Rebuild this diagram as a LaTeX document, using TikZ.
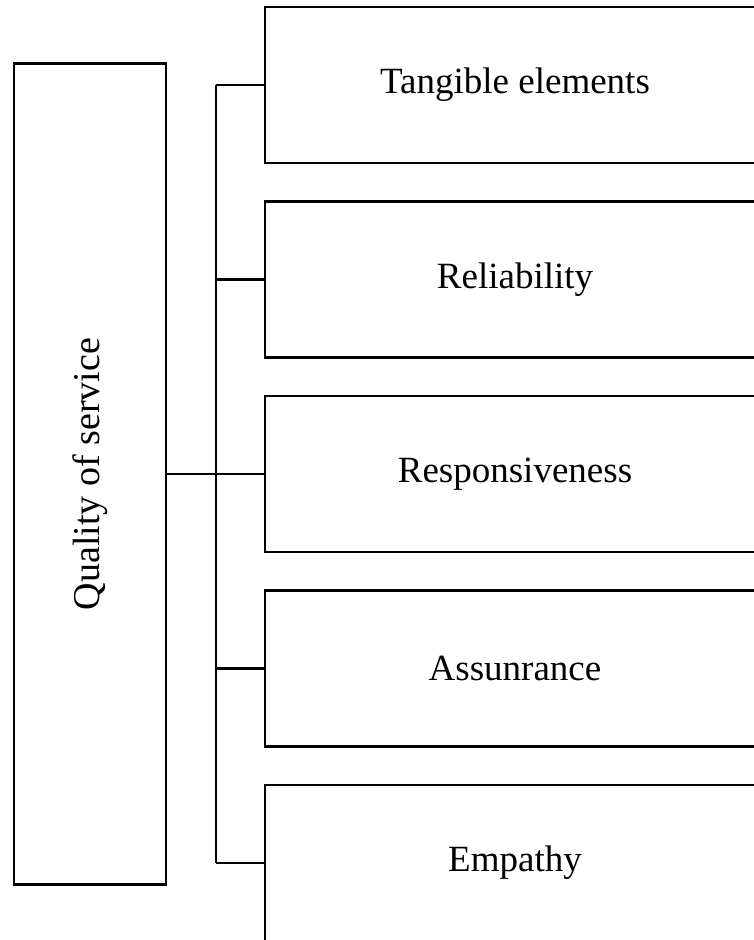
\documentclass[tikz,border=0pt]{standalone}
\usepackage{fontspec}
\setmainfont{Liberation Serif}
\usetikzlibrary{positioning, calc}

\begin{document}
\begin{tikzpicture}[
                x=1pt, y=-1pt,
                line width=2.2pt,
                factor/.style={draw, rectangle, minimum width=500pt, minimum height=156pt, inner sep=0pt, font=\fontsize{37}{41}\selectfont},
                dimension/.style={draw, rectangle, rotate=90, minimum width=821pt, minimum height=152pt, inner sep=0pt, font=\fontsize{38}{42}\selectfont},
            ]
                \clip (0,0) rectangle (754,940);

                % Draw the main dimension on the left
                \node[dimension] (qos) at (90,474) {Quality of service};

                % Draw the five factor boxes
                \foreach \name / \label in {1/Tangible elements, 2/Reliability, 3/Responsiveness, 4/Assunrance, 5/Empathy}
                    \node[factor] (F-\name) at (515,{85+194.5*(\name-1)}) {\label};

                % Trunk line between the dimension and the factors
                \coordinate (trunk) at (216,0);
                \draw (qos.south) -- (F-3.west);
                \draw (F-1.west -| trunk) -- (F-5.west -| trunk);

                % Connect every factor to the trunk
                \foreach \name in {1,...,5}
                    \draw (F-\name.west -| trunk) -- (F-\name.west);
            \end{tikzpicture}
\end{document}
